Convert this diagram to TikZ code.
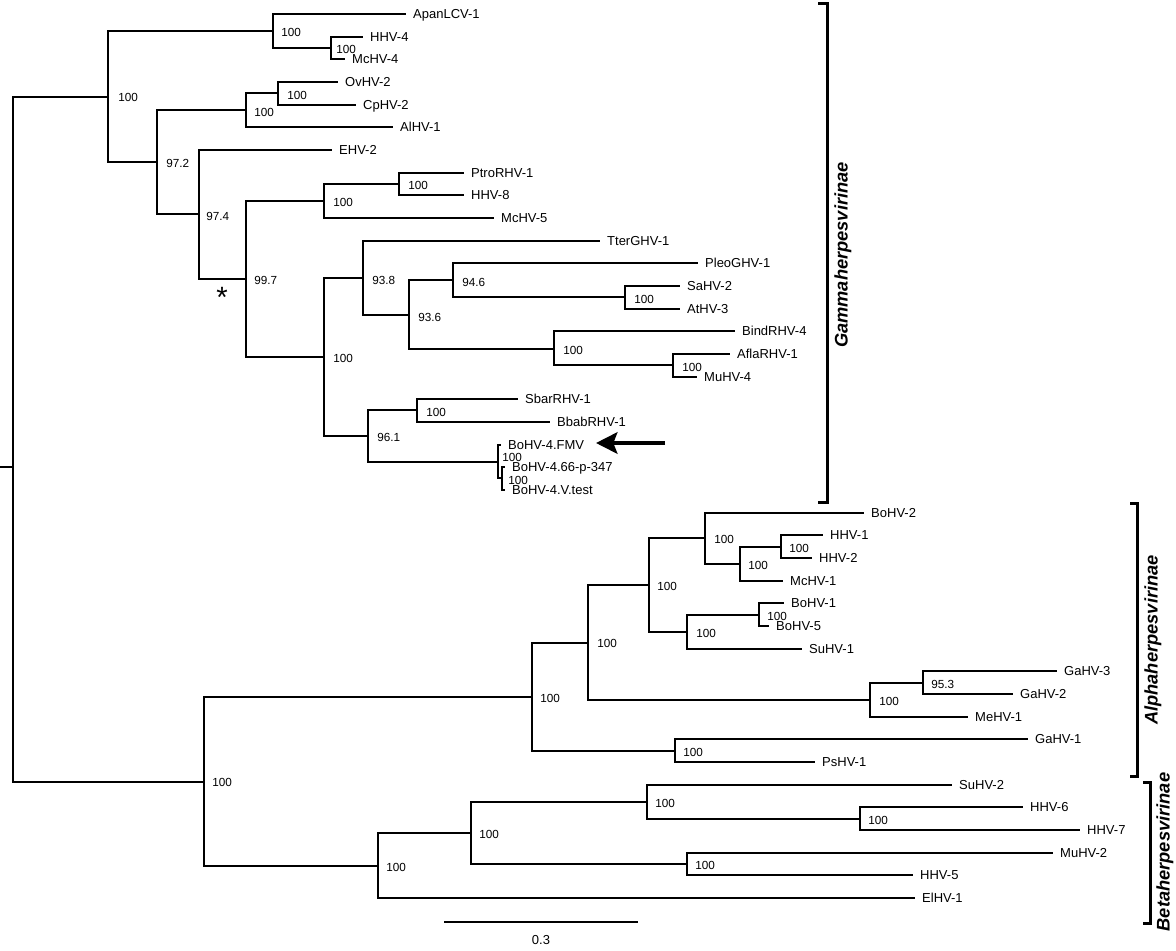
\documentclass[tikz,border=0pt]{standalone}
\usepackage{fontspec}
\setmainfont{Liberation Sans}
\usetikzlibrary{arrows.meta}
\begin{document}
\begin{tikzpicture}[x=0.75pt,y=-0.75pt,
  br/.style={line width=1.125pt},
  tip/.style={anchor=west, inner xsep=5.2pt, inner ysep=0pt, font=\fontsize{9.75}{10}\selectfont, text height=7pt, text depth=0pt},
  bs/.style={anchor=west, inner sep=0pt, font=\fontsize{8.8}{9}\selectfont},
  clade/.style={line width=2.25pt},
  cladelab/.style={rotate=90, inner sep=0pt, font=\fontsize{13.7}{14}\selectfont\bfseries\itshape}]
\useasboundingbox (0,0) rectangle (1176,950);

% ---------- tips ----------
\node[tip] (apan)  at (406,14)  {ApanLCV-1};
\node[tip] (hhv4)  at (363,37)  {HHV-4};
\node[tip] (mchv4) at (345,59)  {McHV-4};
\node[tip] (ovhv2) at (338,82)  {OvHV-2};
\node[tip] (cphv2) at (356,105) {CpHV-2};
\node[tip] (alhv1) at (393,127) {AlHV-1};
\node[tip] (ehv2)  at (332,150) {EHV-2};
\node[tip] (ptro)  at (464,173) {PtroRHV-1};
\node[tip] (hhv8)  at (464,195) {HHV-8};
\node[tip] (mchv5) at (494,218) {McHV-5};
\node[tip] (tter)  at (600,241) {TterGHV-1};
\node[tip] (pleo)  at (698,263) {PleoGHV-1};
\node[tip] (sahv2) at (680,286) {SaHV-2};
\node[tip] (athv3) at (680,309) {AtHV-3};
\node[tip] (bind)  at (735,331) {BindRHV-4};
\node[tip] (afla)  at (730,354) {AflaRHV-1};
\node[tip] (muhv4) at (697,377) {MuHV-4};
\node[tip] (sbar)  at (518,399) {SbarRHV-1};
\node[tip] (bbab)  at (550,422) {BbabRHV-1};
\node[tip] (fmv)   at (501,445) {BoHV-4.FMV};
\node[tip] (p347)  at (505,467) {BoHV-4.66-p-347};
\node[tip] (vtest) at (505,490) {BoHV-4.V.test};
\node[tip] (bohv2) at (864,513) {BoHV-2};
\node[tip] (hhv1)  at (823,535) {HHV-1};
\node[tip] (hhv2)  at (812,558) {HHV-2};
\node[tip] (mchv1) at (783,581) {McHV-1};
\node[tip] (bohv1) at (784,603) {BoHV-1};
\node[tip] (bohv5) at (769,626) {BoHV-5};
\node[tip] (suhv1) at (802,649) {SuHV-1};
\node[tip] (gahv3) at (1057,671) {GaHV-3};
\node[tip] (gahv2) at (1013,694) {GaHV-2};
\node[tip] (mehv1) at (968,717) {MeHV-1};
\node[tip] (gahv1) at (1028,739) {GaHV-1};
\node[tip] (pshv1) at (815,762) {PsHV-1};
\node[tip] (suhv2) at (952,785) {SuHV-2};
\node[tip] (hhv6)  at (1023,807) {HHV-6};
\node[tip] (hhv7)  at (1080,830) {HHV-7};
\node[tip] (muhv2) at (1053,853) {MuHV-2};
\node[tip] (hhv5)  at (913,875) {HHV-5};
\node[tip] (elhv1) at (915,898) {ElHV-1};

% ---------- internal nodes ----------
\coordinate (Rs) at (0,467);
\coordinate (R)  at (13,467);
\coordinate (G1) at (108,97);
\coordinate (A1) at (273,31);
\coordinate (A2) at (331,48);
\coordinate (G2) at (157,162);
\coordinate (B1) at (246,110);
\coordinate (B2) at (278,93);
\coordinate (G3) at (199,214);
\coordinate (G4) at (246,279);
\coordinate (C1) at (324,201);
\coordinate (C2) at (399,184);
\coordinate (D0) at (324,357);
\coordinate (D1) at (363,278);
\coordinate (D2) at (409,315);
\coordinate (D3) at (453,280);
\coordinate (D4) at (625,297);
\coordinate (D5) at (554,349);
\coordinate (D6) at (673,365);
\coordinate (E1) at (368,436);
\coordinate (E2) at (417,410);
\coordinate (E3) at (498,462);
\coordinate (E4) at (502,478);
\coordinate (H0) at (204,782);
\coordinate (H1) at (532,697);
\coordinate (H2) at (588,643);
\coordinate (H3) at (649,585);
\coordinate (H4) at (705,538);
\coordinate (H5) at (740,564);
\coordinate (H6) at (781,547);
\coordinate (H7) at (687,632);
\coordinate (H8) at (759,615);
\coordinate (H9) at (870,700);
\coordinate (H10) at (923,683);
\coordinate (H11) at (675,751);
\coordinate (K0) at (378,866);
\coordinate (K1) at (471,833);
\coordinate (K2) at (647,802);
\coordinate (K3) at (860,819);
\coordinate (K4) at (687,864);

% ---------- branches ----------
\draw[br] (Rs) -- (R) (R) |- (G1) (R) |- (H0);
\draw[br] (G1) |- (A1) (G1) |- (G2);
\draw[br] (A1) |- (apan.west) (A1) |- (A2);
\draw[br] (A2) |- (hhv4.west) (A2) |- (mchv4.west);
\draw[br] (G2) |- (B1) (G2) |- (G3);
\draw[br] (B1) |- (B2) (B1) |- (alhv1.west);
\draw[br] (B2) |- (ovhv2.west) (B2) |- (cphv2.west);
\draw[br] (G3) |- (ehv2.west) (G3) |- (G4);
\draw[br] (G4) |- (C1) (G4) |- (D0);
\draw[br] (C1) |- (C2) (C1) |- (mchv5.west);
\draw[br] (C2) |- (ptro.west) (C2) |- (hhv8.west);
\draw[br] (D0) |- (D1) (D0) |- (E1);
\draw[br] (D1) |- (tter.west) (D1) |- (D2);
\draw[br] (D2) |- (D3) (D2) |- (D5);
\draw[br] (D3) |- (pleo.west) (D3) |- (D4);
\draw[br] (D4) |- (sahv2.west) (D4) |- (athv3.west);
\draw[br] (D5) |- (bind.west) (D5) |- (D6);
\draw[br] (D6) |- (afla.west) (D6) |- (muhv4.west);
\draw[br] (E1) |- (E2) (E1) |- (E3);
\draw[br] (E2) |- (sbar.west) (E2) |- (bbab.west);
\draw[br] (E3) |- (fmv.west) (E3) |- (E4);
\draw[br] (E4) |- (p347.west) (E4) |- (vtest.west);
\draw[br] (H0) |- (H1) (H0) |- (K0);
\draw[br] (H1) |- (H2) (H1) |- (H11);
\draw[br] (H2) |- (H3) (H2) |- (H9);
\draw[br] (H3) |- (H4) (H3) |- (H7);
\draw[br] (H4) |- (bohv2.west) (H4) |- (H5);
\draw[br] (H5) |- (H6) (H5) |- (mchv1.west);
\draw[br] (H6) |- (hhv1.west) (H6) |- (hhv2.west);
\draw[br] (H7) |- (H8) (H7) |- (suhv1.west);
\draw[br] (H8) |- (bohv1.west) (H8) |- (bohv5.west);
\draw[br] (H9) |- (H10) (H9) |- (mehv1.west);
\draw[br] (H10) |- (gahv3.west) (H10) |- (gahv2.west);
\draw[br] (H11) |- (gahv1.west) (H11) |- (pshv1.west);
\draw[br] (K0) |- (K1) (K0) |- (elhv1.west);
\draw[br] (K1) |- (K2) (K1) |- (K4);
\draw[br] (K2) |- (suhv2.west) (K2) |- (K3);
\draw[br] (K3) |- (hhv6.west) (K3) |- (hhv7.west);
\draw[br] (K4) |- (muhv2.west) (K4) |- (hhv5.west);

% ---------- support values ----------
\node[bs] (lG1) at (118,97.5) {100};
\node[bs] (lA1) at (281,32.5) {100};
\node[bs] (lA2) at (336,49.5) {100};
\node[bs] (lG2) at (166,163.5) {97.2};
\node[bs] (lB1) at (254,112) {100};
\node[bs] (lB2) at (287,95) {100};
\node[bs] (lG3) at (206,216) {97.4};
\node[bs] (lG4) at (254,280.5) {99.7};
\node[bs] (lC1) at (333,202.5) {100};
\node[bs] (lC2) at (408,185.5) {100};
\node[bs] (lD0) at (333,358.5) {100};
\node[bs] (lD1) at (372,280) {93.8};
\node[bs] (lD2) at (418,317) {93.6};
\node[bs] (lD3) at (462,282) {94.6};
\node[bs] (lD4) at (634,299) {100};
\node[bs] (lD5) at (563,350) {100};
\node[bs] (lD6) at (682,367) {100};
\node[bs] (lE1) at (377,437.5) {96.1};
\node[bs] (lE2) at (426,412.5) {100};
\node[bs] (lE3) at (502,457) {100};
\node[bs] (lE4) at (508,480) {100};
\node[bs] (lH0) at (212,782.5) {100};
\node[bs] (lH1) at (540,698.5) {100};
\node[bs] (lH2) at (597,643.5) {100};
\node[bs] (lH3) at (657,586.5) {100};
\node[bs] (lH4) at (714,539.5) {100};
\node[bs] (lH5) at (748,565) {100};
\node[bs] (lH6) at (789,548.5) {100};
\node[bs] (lH7) at (696,633) {100};
\node[bs] (lH8) at (767,616.5) {100};
\node[bs] (lH9) at (879,701) {100};
\node[bs] (lH10) at (931,684.5) {95.3};
\node[bs] (lH11) at (683,752) {100};
\node[bs] (lK0) at (386,867) {100};
\node[bs] (lK1) at (479,834) {100};
\node[bs] (lK2) at (655,803.5) {100};
\node[bs] (lK3) at (868,820) {100};
\node[bs] (lK4) at (695,865.5) {100};

% ---------- asterisk ----------
\node[inner sep=0pt, font=\fontsize{22}{22}\selectfont] (ast) at (222,297) {*};

% ---------- arrow ----------
\coordinate (arT) at (665,443);
\coordinate (arH) at (596,443);
\draw[line width=3pt, -{Stealth[length=16pt, width=16pt, inset=3pt]}] (arT) -- (arH);

% ---------- clade brackets ----------
\draw[clade] (818,3) -- (827,3) -- (827,502) -- (818,502);
\node[cladelab] (gam) at (843,255) {Gammaherpesvirinae};
\draw[clade] (1130,503) -- (1137,503) -- (1137,776) -- (1130,776);
\node[cladelab] (alp) at (1153,640) {Alphaherpesvirinae};
\draw[clade] (1143,782) -- (1150,782) -- (1150,923) -- (1143,923);
\node[cladelab] (bet) at (1165,852) {Betaherpesvirinae};

% ---------- scale bar ----------
\coordinate (sb1) at (444,922);
\coordinate (sb2) at (638,922);
\draw[br] (sb1) -- (sb2);
\node[inner sep=0pt, font=\fontsize{9.75}{10}\selectfont] (sbl) at (541,940) {0.3};
\end{tikzpicture}
\end{document}
